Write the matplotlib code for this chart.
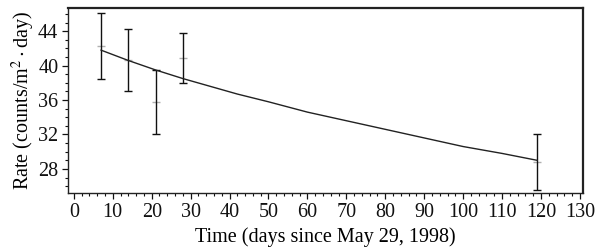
import matplotlib
matplotlib.use("Agg")
import matplotlib.pyplot as plt
from matplotlib.ticker import MultipleLocator

plt.rcParams['font.family'] = ['Liberation Serif', 'DejaVu Serif']
plt.rcParams['mathtext.fontset'] = 'stix'

# measured points
days = [7, 14, 21, 28, 119]
rate = [42.3, 40.7, 35.8, 40.9, 28.8]
err = [3.8, 3.6, 3.7, 2.9, 3.2]

# fitted curve
fit_days = [7, 14, 21, 28, 35, 42, 50, 60, 70, 80, 90, 100, 110, 119]
fit_rate = [41.8, 40.6, 39.5, 38.5, 37.6, 36.7, 35.8, 34.6, 33.6, 32.6, 31.6, 30.6, 29.8, 29.0]

xticks = list(range(0, 131, 10))
yticks = [28, 32, 36, 40, 44]

fig = plt.figure(figsize=(5.95, 2.5), dpi=100)
ax = fig.add_axes([68/595, 1-193/250, (583-68)/595, (193-8)/250])

ax.plot(fit_days, fit_rate, color='#222222', lw=1.0, zorder=3)
ax.errorbar(days, rate, yerr=err, fmt='none', ecolor='#111111', elinewidth=1.0,
            capsize=3, capthick=1.0, zorder=2)
ax.plot(days, rate, linestyle='none', marker='_', color='#b0b0b0', markersize=6,
        markeredgewidth=1.0, zorder=1)

ax.set_xlim(-1.5, 130.8)
ax.set_ylim(25.2, 46.7)
ax.set_xticks(xticks)
ax.set_yticks(yticks)
ax.xaxis.set_minor_locator(MultipleLocator(2))
ax.yaxis.set_minor_locator(MultipleLocator(1))
ax.tick_params(which='both', direction='out', top=False, right=False, labelsize=14.5, colors='#111111')
ax.tick_params(which='major', length=4, width=0.9, pad=3)
ax.tick_params(which='minor', length=2.5, width=0.8)

for s in ['top', 'right']:
    ax.spines[s].set_linewidth(1.6)
    ax.spines[s].set_color('#222222')
for s in ['left', 'bottom']:
    ax.spines[s].set_linewidth(1.0)
    ax.spines[s].set_color('#222222')

ax.set_xlabel('Time (days since May 29, 1998)', fontsize=14.5, labelpad=4)
ax.set_ylabel('Rate (counts/m$^{2}\\cdot$day)', fontsize=14.5, labelpad=1)

fig.savefig('out.png', dpi=100)
